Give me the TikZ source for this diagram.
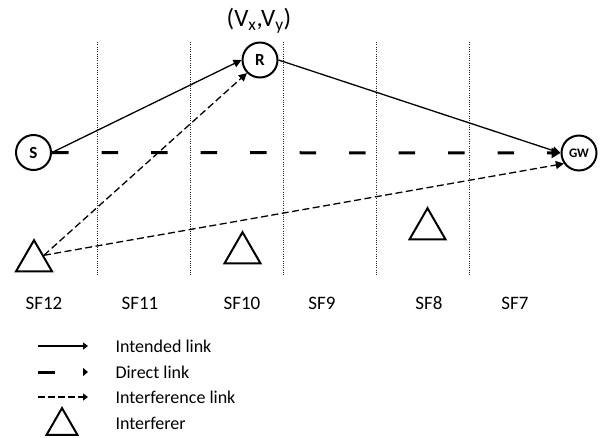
\documentclass[tikz,border=0pt]{standalone}
\usepackage{fontspec}
\setmainfont{Carlito}
\usetikzlibrary{arrows.meta,shapes.geometric}
\tikzset{
  fx/.style={x=1pt, y=-1pt},
  w node/.style={draw, circle, line width=2pt, minimum size=35pt, inner sep=0pt, font=\fontsize{17}{17}\selectfont\bfseries},
  w intf/.style={draw, regular polygon, regular polygon sides=3, minimum size=41.6pt, inner sep=0pt, line width=2pt},
  w sf/.style={line width=0.8pt, black!85, dash pattern=on 0.8pt off 1.5pt},
  w lab/.style={font=\fontsize{19}{21}\selectfont},
  w leg/.style={font=\fontsize{18}{20}\selectfont, anchor=west},
  w want/.style={line width=1.3pt, -{Triangle[length=8pt,width=8pt]}},
  w direct/.style={line width=3pt, dash pattern=on 16.5pt off 33pt, -{Triangle[length=9pt,width=10pt]}},
  w noise/.style={line width=1.3pt, dash pattern=on 7pt off 3.5pt, -{Triangle[length=8pt,width=8pt]}},
}

\begin{document}
\begin{tikzpicture}[fx]
\useasboundingbox (0,0) rectangle (602,437);

% spreading factor rings
\foreach \x in {97,190,283,376,469}
  \draw[w sf] (\x,42) -- (\x,275);
\foreach \x/\t in {44/SF12,140/SF11,242/SF10,322/SF9,429/SF8,515/SF7}
  \node[w lab] (sf\t) at (\x,303) {\t};

% nodes
\node[w node] (S) at (33.5,152.5) {S};
\node[w node] (R) at (260,60) {R};
\node[w node, font=\fontsize{13}{13}\selectfont\bfseries] (GW) at (579,153) {GW};
\node[font=\fontsize{25}{27}\selectfont] (pos) at (259,21) {(V\textsubscript{x},V\textsubscript{y})};

% interferers
\node[w intf] (i1) at (34,261) {};
\node[w intf] (i2) at (242.5,253) {};
\node[w intf] (i3) at (427.5,229) {};

% links
\draw[w want] (S.east) -- (R.west);
\draw[w want] (R.east) -- (GW.west);
\draw[w direct] (S.east) -- (GW.west);
\draw[w noise] (i1.side 3) -- (R.south west);
\draw[w noise] (i1.side 3) -- (GW.215);

% legend
\coordinate (l1a) at (38,346); \coordinate (l1b) at (88,346);
\coordinate (l2a) at (38,372); \coordinate (l2b) at (88,372);
\coordinate (l3a) at (38,397); \coordinate (l3b) at (88,397);
\draw[w want, -{Triangle[length=5pt,width=7pt]}] (l1a) -- (l1b);
\draw[w direct, -{Triangle[length=5pt,width=8pt]}] (l2a) -- (l2b);
\draw[w noise, dash pattern=on 6.5pt off 3.5pt, -{Triangle[length=5pt,width=7pt]}] (l3a) -- (l3b);
\node[w intf, minimum size=35.8pt] (li) at (62,426) {};
\node[w leg] (t1) at (112,346) {Intended link};
\node[w leg] (t2) at (112,372) {Direct link};
\node[w leg] (t3) at (112,397) {Interference link};
\node[w leg] (t4) at (112,423) {Interferer};
\end{tikzpicture}
\end{document}
